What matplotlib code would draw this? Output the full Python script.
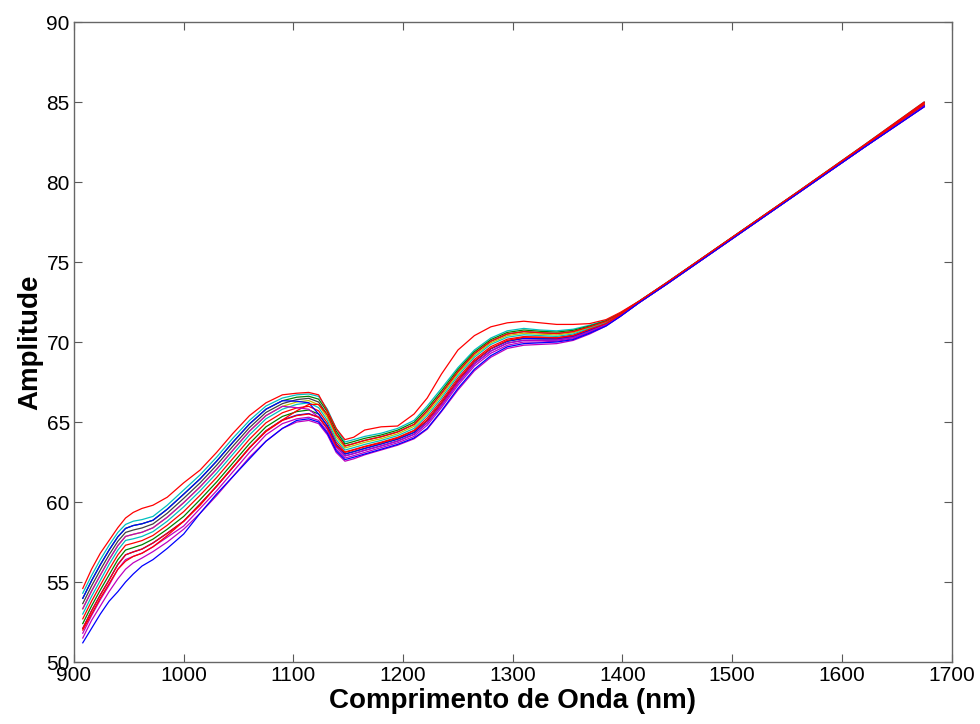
import matplotlib as mpl
import matplotlib.pyplot as plt

mpl.rcParams["font.family"] = ["Liberation Sans", "DejaVu Sans"]

wavelength = [908, 916, 924, 932, 940, 947, 954, 962, 972, 985, 1000, 1015,
              1030, 1045, 1060, 1075, 1090, 1103, 1114, 1123, 1131, 1139, 1147,
              1155, 1165, 1180, 1195, 1210, 1222, 1235, 1250, 1265, 1280, 1295,
              1310, 1325, 1340, 1355, 1370, 1385, 1398, 1415, 1440, 1500, 1560,
              1620, 1675]

# main band, from its lower edge to its upper edge
band_0 = [51.8, 52.9, 53.9, 54.8, 55.8, 56.4, 56.6, 56.8, 57.2, 57.8, 58.5, 59.6,
          60.7, 61.9, 63.1, 64.2, 64.9, 65.2, 65.3, 65.1, 64.4, 63.3, 62.75,
          62.9, 63.1, 63.4, 63.7, 64.1, 64.8, 65.9, 67.3, 68.5, 69.3, 69.8,
          70.0, 70.0, 70.05, 70.2, 70.6, 71.05, 71.6, 72.45, 73.6, 76.45, 79.3,
          82.15, 84.7]
band_1 = [52.1, 53.2, 54.2, 55.13, 56.1, 56.7, 56.88, 57.06, 57.44, 58.05, 58.8, 59.88,
          60.98, 62.18, 63.38, 64.45, 65.13, 65.43, 65.53, 65.3, 64.58, 63.45, 62.88,
          63.03, 63.23, 63.51, 63.81, 64.23, 64.95, 66.05, 67.45, 68.64, 69.44, 69.93,
          70.11, 70.1, 70.13, 70.28, 70.66, 71.09, 71.63, 72.46, 73.61, 76.46, 79.31,
          82.16, 84.74]
band_2 = [52.4, 53.5, 54.5, 55.45, 56.4, 57.0, 57.15, 57.33, 57.68, 58.3, 59.1, 60.15,
          61.25, 62.45, 63.65, 64.7, 65.35, 65.65, 65.75, 65.5, 64.75, 63.6, 63.0,
          63.15, 63.35, 63.63, 63.93, 64.35, 65.1, 66.2, 67.6, 68.78, 69.58, 70.05,
          70.23, 70.2, 70.2, 70.35, 70.73, 71.13, 71.65, 72.48, 73.63, 76.48, 79.33,
          82.18, 84.78]
band_3 = [52.7, 53.8, 54.8, 55.78, 56.7, 57.3, 57.43, 57.59, 57.91, 58.55, 59.4, 60.43,
          61.53, 62.73, 63.93, 64.95, 65.58, 65.88, 65.98, 65.7, 64.93, 63.75, 63.13,
          63.28, 63.48, 63.74, 64.04, 64.48, 65.25, 66.35, 67.75, 68.91, 69.71, 70.18,
          70.34, 70.3, 70.28, 70.43, 70.79, 71.16, 71.68, 72.49, 73.64, 76.49, 79.34,
          82.19, 84.81]
band_4 = [53.0, 54.1, 55.1, 56.1, 57.0, 57.6, 57.7, 57.85, 58.15, 58.8, 59.7, 60.7,
          61.8, 63.0, 64.2, 65.2, 65.8, 66.1, 66.2, 65.9, 65.1, 63.9, 63.25,
          63.4, 63.6, 63.85, 64.15, 64.6, 65.4, 66.5, 67.9, 69.05, 69.85, 70.3,
          70.45, 70.4, 70.35, 70.5, 70.85, 71.2, 71.7, 72.5, 73.65, 76.5, 79.35,
          82.2, 84.85]
band_5 = [53.33, 54.43, 55.43, 56.4, 57.28, 57.85, 57.98, 58.11, 58.39, 59.05, 59.96, 60.95,
          62.05, 63.25, 64.43, 65.4, 65.98, 66.25, 66.34, 66.08, 65.28, 64.08, 63.38,
          63.53, 63.73, 63.96, 64.26, 64.73, 65.55, 66.65, 68.03, 69.16, 69.95, 70.4,
          70.55, 70.49, 70.44, 70.58, 70.9, 71.24, 71.73, 72.51, 73.66, 76.51, 79.36,
          82.23, 84.89]
band_6 = [53.65, 54.75, 55.75, 56.7, 57.55, 58.1, 58.25, 58.38, 58.63, 59.3, 60.23, 61.2,
          62.3, 63.5, 64.65, 65.6, 66.15, 66.4, 66.48, 66.25, 65.45, 64.25, 63.5,
          63.65, 63.85, 64.08, 64.38, 64.85, 65.7, 66.8, 68.15, 69.28, 70.05, 70.5,
          70.65, 70.58, 70.53, 70.65, 70.95, 71.28, 71.75, 72.53, 73.68, 76.53, 79.38,
          82.25, 84.93]
band_7 = [53.98, 55.08, 56.08, 57.0, 57.83, 58.35, 58.53, 58.64, 58.86, 59.55, 60.49, 61.45,
          62.55, 63.75, 64.88, 65.8, 66.33, 66.55, 66.61, 66.43, 65.63, 64.43, 63.63,
          63.78, 63.98, 64.19, 64.49, 64.98, 65.85, 66.95, 68.28, 69.39, 70.15, 70.6,
          70.75, 70.67, 70.62, 70.73, 71.0, 71.32, 71.78, 72.54, 73.69, 76.54, 79.39,
          82.28, 84.96]
band_8 = [54.3, 55.4, 56.4, 57.3, 58.1, 58.6, 58.8, 58.9, 59.1, 59.8, 60.75, 61.7,
          62.8, 64.0, 65.1, 66.0, 66.5, 66.7, 66.75, 66.6, 65.8, 64.6, 63.75,
          63.9, 64.1, 64.3, 64.6, 65.1, 66.0, 67.1, 68.4, 69.5, 70.25, 70.7,
          70.85, 70.75, 70.7, 70.8, 71.05, 71.35, 71.8, 72.55, 73.7, 76.55, 79.4,
          82.3, 85.0]
# band spectra that change rank along the way
swap_1 = [53.98, 55.08, 56.08, 57.0, 57.83, 58.35, 58.53, 58.64, 58.86, 59.55, 60.49, 61.45,
          62.55, 63.75, 64.88, 65.8, 66.33, 66.3, 66.2, 65.5, 64.75, 63.6, 63.0,
          63.15, 63.35, 63.63, 63.93, 64.35, 65.1, 66.2, 67.6, 68.78, 69.58, 70.05,
          70.23, 70.2, 70.2, 70.35, 70.73, 71.13, 71.65, 72.48, 73.63, 76.48, 79.33,
          82.18, 84.78]
swap_2 = [52.1, 53.2, 54.2, 55.13, 56.1, 56.7, 56.88, 57.06, 57.44, 58.05, 58.8, 59.88,
          60.98, 62.18, 63.38, 64.45, 65.13, 65.7, 66.1, 66.1, 65.45, 64.25, 63.5,
          63.65, 63.85, 64.08, 64.38, 64.85, 65.7, 66.8, 68.15, 69.28, 70.05, 70.5,
          70.65, 70.58, 70.53, 70.65, 70.95, 71.28, 71.75, 72.53, 73.68, 76.53, 79.38,
          82.25, 84.93]
swap_3 = [53.33, 54.43, 55.43, 56.4, 57.28, 57.85, 57.98, 58.11, 58.39, 59.05, 59.96, 60.95,
          62.05, 63.25, 64.43, 65.4, 65.98, 65.9, 65.8, 65.3, 64.58, 63.45, 62.88,
          63.03, 63.23, 63.51, 63.81, 64.23, 64.95, 66.05, 67.45, 68.64, 69.44, 69.93,
          70.11, 70.1, 70.13, 70.28, 70.66, 71.09, 71.63, 72.46, 73.61, 76.46, 79.31,
          82.16, 84.74]
# outliers
red_low = [52.0, 53.0, 54.0, 54.9, 55.8, 56.3, 56.6, 56.8, 57.2, 57.9, 58.8, 59.8,
           61.0, 62.2, 63.4, 64.4, 65.1, 65.4, 65.5, 65.3, 64.6, 63.5, 63.1,
           63.25, 63.45, 63.7, 64.0, 64.45, 65.1, 66.2, 67.6, 68.8, 69.6, 70.1,
           70.3, 70.3, 70.25, 70.4, 70.8, 71.15, 71.7, 72.5, 73.65, 76.5, 79.35,
           82.2, 84.85]
magenta_low = [51.5, 52.6, 53.5, 54.4, 55.2, 55.8, 56.2, 56.5, 56.9, 57.5, 58.3, 59.3,
               60.4, 61.6, 62.8, 63.8, 64.6, 65.0, 65.1, 64.9, 64.2, 63.1, 62.55,
               62.7, 62.95, 63.25, 63.55, 63.95, 64.55, 65.65, 67.0, 68.2, 69.05, 69.6,
               69.8, 69.85, 69.9, 70.1, 70.5, 71.0, 71.6, 72.45, 73.6, 76.45, 79.3,
               82.15, 84.7]
blue_low = [51.2, 52.1, 53.0, 53.8, 54.4, 55.0, 55.5, 56.0, 56.4, 57.1, 58.0, 59.3,
            60.5, 61.6, 62.7, 63.8, 64.6, 65.1, 65.2, 65.0, 64.3, 63.2, 62.65,
            62.8, 63.0, 63.3, 63.6, 64.0, 64.6, 65.7, 67.1, 68.3, 69.15, 69.7,
            69.9, 69.95, 70.0, 70.15, 70.55, 71.0, 71.6, 72.45, 73.6, 76.45, 79.3,
            82.15, 84.7]
red_top = [54.6, 55.8, 56.8, 57.6, 58.4, 59.0, 59.35, 59.6, 59.8, 60.3, 61.2, 62.0,
           63.1, 64.3, 65.4, 66.2, 66.7, 66.8, 66.85, 66.7, 65.7, 64.6, 63.9,
           64.05, 64.5, 64.7, 64.75, 65.5, 66.5, 68.0, 69.5, 70.4, 70.95, 71.2,
           71.3, 71.2, 71.1, 71.1, 71.15, 71.4, 71.85, 72.55, 73.7, 76.55, 79.4,
           82.3, 85.0]

spectra = [band_0, band_8, band_1, band_7, band_2, band_6, band_3, band_5, band_4,
           swap_1, swap_2, swap_3, red_low, magenta_low, blue_low, red_top]
colors = ['m', 'c', 'b', 'g', 'g', 'k', 'r', 'y', 'c', 'b', 'r', 'm', 'r', 'm', 'b', 'r']

# old matlab line colours
matlab = {'b': (0, 0, 1), 'g': (0, 0.5, 0), 'r': (1, 0, 0), 'c': (0, 0.75, 0.75),
          'm': (0.75, 0, 0.75), 'y': (0.75, 0.75, 0), 'k': (0.25, 0.25, 0.25)}

fig = plt.figure(figsize=(9.8, 7.24), dpi=100)
ax = fig.add_axes([0.0755, 0.0856, 0.8955, 0.884])

for s, c in zip(spectra, colors):
    ax.plot(wavelength, s, color=matlab[c], linewidth=0.9)

ax.set_xlim(900, 1700)
ax.set_ylim(50, 90)
ax.set_xticks(range(900, 1701, 100))
ax.set_yticks(range(50, 91, 5))

ax.tick_params(direction='in', length=6, width=0.8, top=True, right=True,
               labelsize=15, color='0.35', pad=3)
for sp in ax.spines.values():
    sp.set_color('0.4')
    sp.set_linewidth(1.0)

ax.set_xlabel('Comprimento de Onda (nm)', fontsize=20, fontweight='bold', labelpad=2)
ax.set_ylabel('Amplitude', fontsize=20, fontweight='bold', labelpad=2)

plt.savefig('out.png')
